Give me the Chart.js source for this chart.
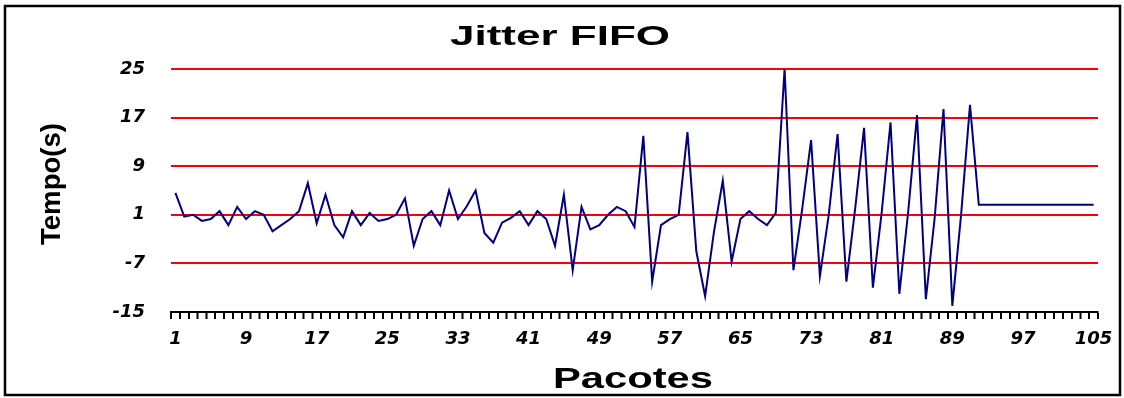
<!DOCTYPE html>
<html>
<head>
<meta charset="utf-8">
<title>Jitter FIFO</title>
<script src="https://cdn.jsdelivr.net/npm/chart.js@4.4.0/dist/chart.umd.min.js"></script>
<style>
  html, body { margin: 0; padding: 0; background: #fff; }
  #wrap { position: relative; width: 1124px; height: 398px; }
</style>
</head>
<body>
<div id="wrap"><canvas id="jitter_chart"></canvas></div>
<script>
// texts
var chartTitle = 'Jitter FIFO';
var xTitle = 'Pacotes';
var yTitle = 'Tempo(s)';

// categories: packet numbers 1..105
var pacotes = [];
for (var i = 1; i <= 105; i++) pacotes.push(String(i));

// jitter per packet
var jitter = [
  4.6, 0.7, 1.0, 0.0, 0.3, 1.6, -0.7, 2.3, 0.3, 1.6,
  1.0, -1.7, -0.7, 0.3, 1.6, 6.2, -0.4, 4.3, -0.7, -2.7,
  1.6, -0.7, 1.3, 0.0, 0.3, 1.0, 3.7, -4.1, 0.3, 1.6,
  -0.7, 5.0, 0.3, 2.4, 5.0, -2.0, -3.6, -0.3, 0.5, 1.6,
  -0.7, 1.6, 0.3, -4.1, 4.3, -8.1, 2.3, -1.4, -0.7, 1.0,
  2.3, 1.6, -1.0, 14.0, -10.0, -0.7, 0.3, 1.0, 14.6, -5.0,
  -12.4, -1.8, 6.6, -6.7, 0.3, 1.6, 0.3, -0.7, 1.3, 25.0,
  -8.1, 2.0, 13.3, -9.1, 1.0, 14.3, -10.0, 2.1, 15.3, -11.0,
  1.4, 16.2, -12.0, 1.5, 17.4, -12.9, 0.5, 18.4, -14.0, 1.1,
  19.1, 2.65, 2.65, 2.65, 2.65, 2.65, 2.65, 2.65, 2.65, 2.65,
  2.65, 2.65, 2.65, 2.65, 2.65
];

// tick labels
var yTicks = [-15, -7, 1, 9, 17, 25];
var xLabelEvery = 8;

var tickFont = { family: '"DejaVu Sans"', size: 18, weight: 'bold', style: 'italic' };

// red grid lines, none at the bottom (that one is the black x axis)
var yGridColors = yTicks.map(function(v) { return v === yTicks[0] ? 'rgba(0,0,0,0)' : '#ff0000'; });

// draws a text squeezed / stretched horizontally to a given width
function drawFitText(ctx, text, font, cx, baseline, width, angle) {
  ctx.save();
  ctx.font = font;
  var natural = ctx.measureText(text).width;
  ctx.translate(cx, baseline);
  if (angle) ctx.rotate(angle);
  ctx.scale(width / natural, 1);
  ctx.textAlign = 'center';
  ctx.textBaseline = 'alphabetic';
  ctx.fillStyle = '#000';
  ctx.fillText(text, 0, 0);
  ctx.restore();
}

// frame, tick comb under the x axis and titles (the original's text is drawn stretched)
var frameAndTitles = {
  id: 'frameAndTitles',
  afterDraw: function(chart) {
    var c = chart.ctx;
    var xs = chart.scales.x;
    c.save();
    c.strokeStyle = '#000';
    c.lineWidth = 2.5;
    c.strokeRect(5, 6, 1115, 389);
    // one tick mark between every pair of packets, from the x scale
    var first = xs.getPixelForTick(0);
    var step = xs.getPixelForTick(1) - first;
    c.lineWidth = 1.5;
    c.beginPath();
    for (var k = 0; k <= pacotes.length; k++) {
      var px = Math.round(first + (k - 0.5) * step) + 0.25;
      c.moveTo(px, xs.top + 1);
      c.lineTo(px, xs.top + 7);
    }
    c.stroke();
    c.restore();
    drawFitText(c, chartTitle, 'bold 28px "Liberation Sans"', 560, 45, 220);
    drawFitText(c, xTitle, 'bold 30px "Liberation Sans"', 633, 388, 160);
    // rotated: baseline runs along x = 60
    drawFitText(c, yTitle, 'bold 28px "Liberation Sans"', 60, 184, 122, -Math.PI / 2);
  }
};

var jitterChart = new Chart(document.getElementById('jitter_chart'), {
  type: 'line',
  data: {
    labels: pacotes,
    datasets: [{
      label: 'Jitter',
      data: jitter,
      borderColor: '#000080',
      borderWidth: 2,
      pointRadius: 0,
      tension: 0,
      fill: false,
      clip: 4
    }]
  },
  options: {
    responsive: true,
    maintainAspectRatio: false,
    animation: false,
    layout: { padding: { top: 69, right: 26, left: 0, bottom: 0 } },
    plugins: {
      legend: { display: false },
      tooltip: { enabled: false }
    },
    scales: {
      x: {
        type: 'category',
        offset: true,
        afterFit: function(scale) { scale.height = 86; },
        grid: {
          offset: true,
          drawOnChartArea: false,
          drawTicks: true,
          tickLength: 7,
          color: '#000',
          tickColor: '#000',
          tickWidth: 1.5,
          lineWidth: 1.5
        },
        border: { display: true, color: '#000', width: 2 },
        ticks: {
          autoSkip: false,
          maxRotation: 0,
          minRotation: 0,
          padding: 10,
          color: '#000',
          font: tickFont,
          callback: function(value, index) {
            return index % xLabelEvery === 0 ? pacotes[index] : '';
          }
        }
      },
      y: {
        min: -15,
        max: 25,
        afterFit: function(scale) { scale.width = 171; },
        afterBuildTicks: function(scale) {
          scale.ticks = yTicks.map(function(v) { return { value: v }; });
        },
        grid: {
          drawTicks: false,
          lineWidth: 2,
          color: yGridColors
        },
        border: { display: false },
        ticks: {
          padding: 26,
          color: '#000',
          font: tickFont
        }
      }
    }
  },
  plugins: [frameAndTitles]
});
</script>
</body>
</html>
